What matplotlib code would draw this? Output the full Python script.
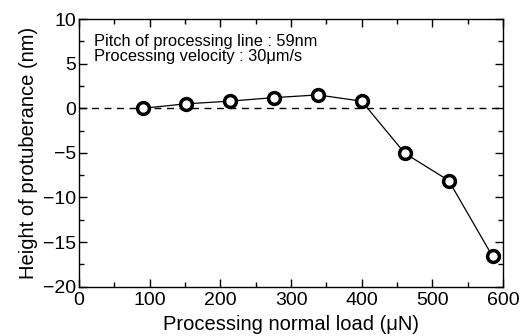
import matplotlib
matplotlib.use("Agg")
import matplotlib.pyplot as plt
from matplotlib.ticker import MultipleLocator

plt.rcParams['font.family'] = ['Liberation Sans', 'DejaVu Sans']

load = [90, 151, 213, 276, 338, 400, 461, 523, 585]
height = [0.0, 0.5, 0.8, 1.2, 1.5, 0.8, -5.05, -8.1, -16.6]
xticks = [0, 100, 200, 300, 400, 500, 600]
yticks = [-20, -15, -10, -5, 0, 5, 10]

fig = plt.figure(figsize=(5.23, 3.36), dpi=100)
ax = fig.add_axes([0.151, 0.147, 0.811, 0.796])

ax.axhline(0, color='black', linestyle=(0, (5, 4)), linewidth=1.0, zorder=1)
ax.plot(load, height, color='black', linewidth=0.9, marker='o', markersize=8.5,
        markerfacecolor='white', markeredgecolor='black', markeredgewidth=2.5, zorder=3)

ax.set_xlim(0, 600)
ax.set_ylim(-20, 10)
ax.set_xticks(xticks)
ax.set_yticks(yticks)
ax.xaxis.set_minor_locator(MultipleLocator(50))
ax.yaxis.set_minor_locator(MultipleLocator(2.5))
ax.tick_params(which='both', direction='in', top=True, right=True, labelsize=14, width=1.0)
ax.tick_params(which='major', length=6)
ax.tick_params(which='minor', length=3.5)
ax.tick_params(axis='x', pad=4)
ax.tick_params(axis='y', pad=2)
for s in ax.spines.values():
    s.set_linewidth(1.0)

ax.set_xlabel('Processing normal load (\u03bcN)', fontsize=14.5, labelpad=4)
ax.set_ylabel('Height of protuberance (nm)', fontsize=14.5, labelpad=4)

ax.text(0.036, 0.945, 'Pitch of processing line : 59nm\nProcessing velocity : 30\u03bcm/s',
        transform=ax.transAxes, fontsize=11.8, va='top', ha='left', linespacing=1.05)

fig.savefig('out.png', dpi=100)
